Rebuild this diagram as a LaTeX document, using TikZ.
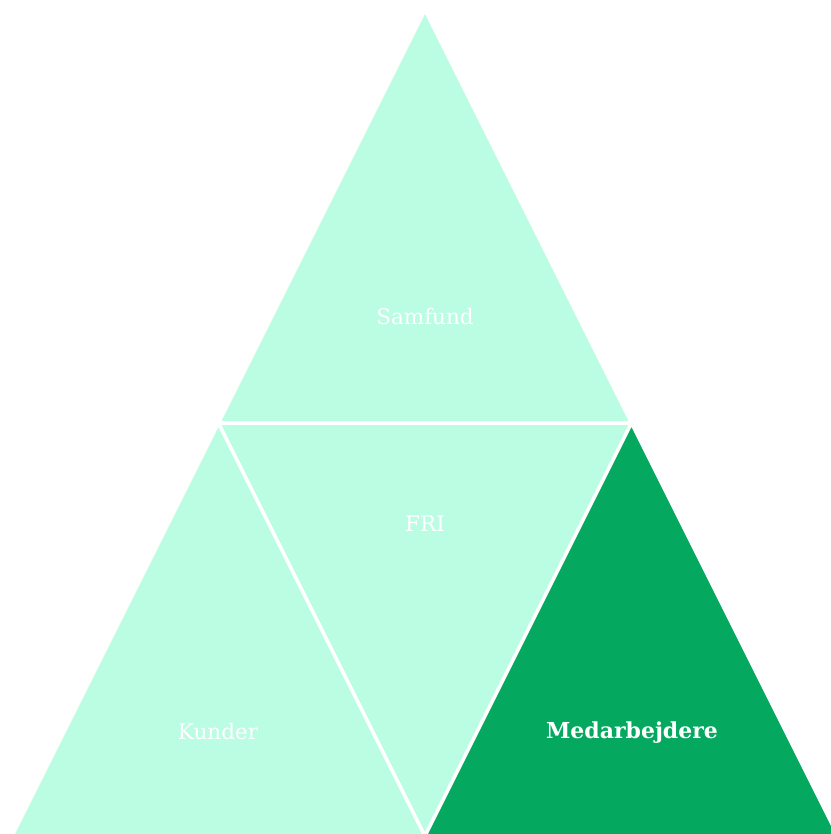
\documentclass[tikz,border=0pt]{standalone}
\usepackage{fontspec}
\setmainfont{DejaVu Serif}
\usepackage{tikz}
\usepackage{xcolor}
\usetikzlibrary{calc, positioning}
\definecolor{mint}{HTML}{BBFDE2}
\definecolor{fgreen}{HTML}{04A85E}

\begin{document}
\begin{tikzpicture}[x=1pt, y=-1pt,
    part/.style={fill=mint, draw=white, line width=3.5pt, line join=miter},
    label/.style={text=white, font=\fontsize{21.5}{24}\selectfont}]
                        \useasboundingbox (0, 0) rectangle (830, 834);
                        \coordinate (top) at (425, 10);
                        \coordinate (bl) at (12, 836);
                        \coordinate (br) at (838, 836);
                        \coordinate (ml) at ($(top)!0.5!(bl)$);
                        \coordinate (mr) at ($(top)!0.5!(br)$);
                        \coordinate (mb) at ($(bl)!0.5!(br)$);
                        \draw[part] (top) -- (mr) -- (ml) -- cycle;
                        \draw[part] (ml) -- (mb) -- (bl) -- cycle;
                        \draw[part] (ml) -- (mr) -- (mb) -- cycle;
                        \draw[part, fill=fgreen] (mr) -- (br) -- (mb) -- cycle;
                        \node[label] (samfund) at (425, 316) {Samfund};
                        \node[label] (fri) at (425, 524) {FRI};
                        \node[label] (kunder) at (218, 731) {Kunder};
                        \node[label, font=\fontsize{22}{24}\selectfont\bfseries] (medarb) at (632, 733) {Medarbejdere};
                    \end{tikzpicture}
\end{document}
